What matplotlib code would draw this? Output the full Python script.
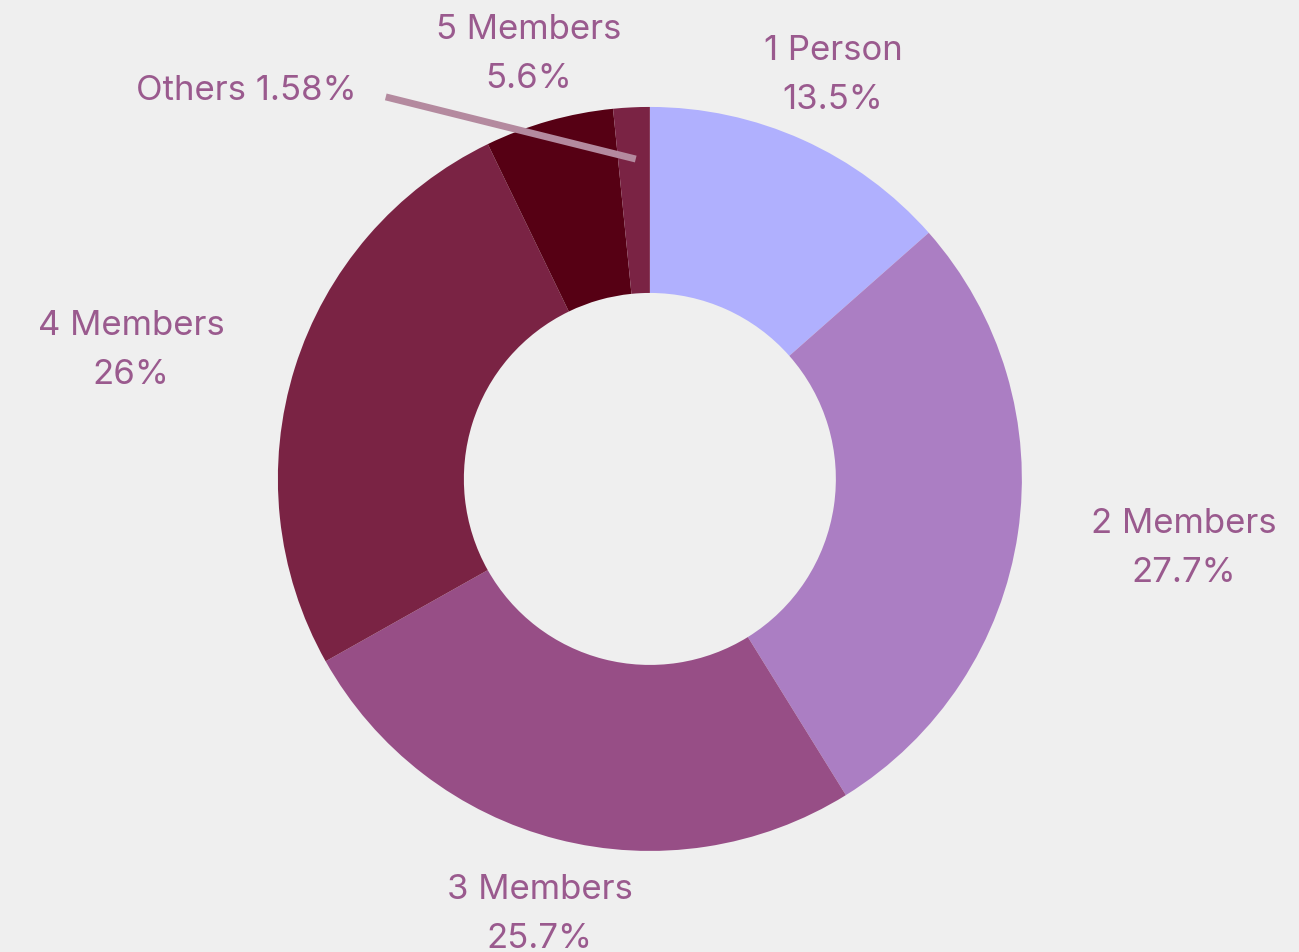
import matplotlib.pyplot as plt

labels = ["1 Person", "2 Members", "3 Members", "4 Members", "5 Members", "Others"]
shares = [13.5, 27.7, 25.7, 26.0, 5.6, 1.58]
share_text = ["13.5%", "27.7%", "25.7%", "26%", "5.6%", "1.58%"]
colors = ["#b0b0fe", "#ab7ec3", "#974e86", "#7a2344", "#560014", "#7a2344"]

# label positions in data units (pie radius = 1)
label_pos = {
    "1 Person": (0.492, 1.087),
    "2 Members": (1.435, -0.185),
    "3 Members": (-0.296, -1.169),
    "4 Members": (-1.395, 0.348),
    "5 Members": (-0.325, 1.143),
}

bg = "#efefef"
txt_color = "#9a5a8e"
plt.rcParams["font.family"] = ["Inter", "DejaVu Sans"]

fig = plt.figure(figsize=(12.99, 9.53), dpi=100, facecolor=bg)
ax = fig.add_axes([0, 0, 1, 1])
ax.set_facecolor(bg)

ax.pie(shares, colors=colors, startangle=90, counterclock=False,
       radius=1.0, wedgeprops=dict(width=0.5, linewidth=0))

for lab, txt in zip(labels, share_text):
    if lab in label_pos:
        x, y = label_pos[lab]
        ax.text(x, y, f"{lab}\n{txt}", ha="center", va="center",
                fontsize=25, color=txt_color, linespacing=1.68)

# "Others" label with a leader line
ax.text(-1.086, 1.045, f"Others {share_text[-1]}", ha="center", va="center",
        fontsize=25, color=txt_color)
ax.plot([-0.710, -0.038], [1.027, 0.860], color="#b48a9f", linewidth=5,
        solid_capstyle="butt")

ax.set_xlim(-1.747, 1.745)
ax.set_ylim(-1.2715, 1.290)
ax.set_aspect("equal")
ax.axis("off")

fig.savefig("out.png", dpi=100, facecolor=bg)
